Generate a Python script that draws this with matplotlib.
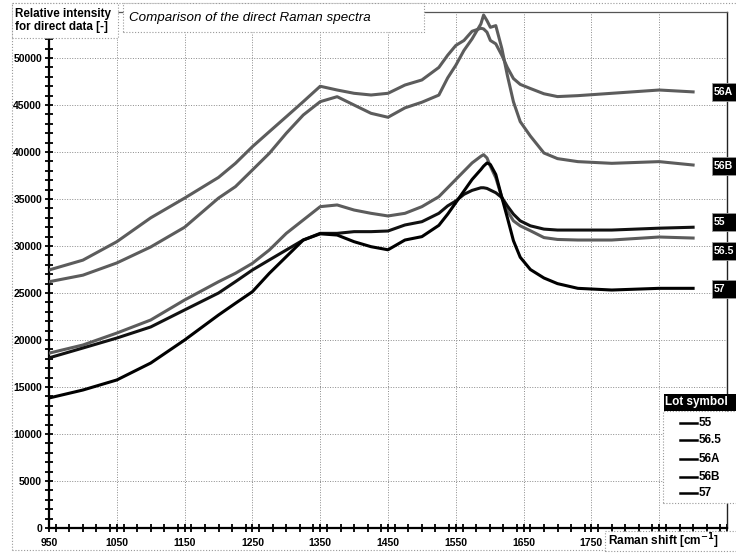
import matplotlib
matplotlib.use("Agg")
import matplotlib.pyplot as plt
from matplotlib.patches import Rectangle
from matplotlib.lines import Line2D
from matplotlib.ticker import MultipleLocator, FixedLocator

plt.rcParams['font.family'] = ['Liberation Sans', 'DejaVu Sans']

# -------------------
# data
# -------------------
raman_shift = [950, 1000, 1050, 1100, 1150, 1200, 1225, 1250, 1275, 1300, 1325, 1350,
               1375, 1400, 1425, 1450, 1475, 1500, 1525, 1538, 1550, 1562, 1574, 1587,
               1591, 1596, 1601, 1609, 1618, 1626, 1635, 1645, 1660, 1680, 1700, 1730,
               1780, 1850, 1900]

lot_56A = [27450, 28500, 30460, 33000, 35100, 37300, 38800, 40570, 42170, 43760, 45360, 47000,
           46600, 46250, 46070, 46250, 47130, 47670, 49000, 50300, 51340, 51870, 52850, 53170,
           53100, 52750, 51870, 51510, 50280, 49000, 47820, 47200, 46760, 46200, 45900, 46000,
           46250, 46600, 46400]
lot_56B = [26200, 26900, 28200, 29900, 32000, 35100, 36320, 38090, 39870, 42000, 43940, 45360,
           45890, 45000, 44120, 43700, 44700, 45300, 46060, 47890, 49230, 50810, 52040, 53630,
           54580, 53980, 53270, 53450, 50990, 48170, 45350, 43240, 41700, 39900, 39300, 38980,
           38800, 38980, 38620]
lot_565 = [18600, 19470, 20740, 22130, 24260, 26200, 27100, 28160, 29580, 31350, 32770, 34190,
           34370, 33830, 33480, 33200, 33480, 34190, 35250, 36200, 37080, 37960, 38840, 39550,
           39720, 39370, 38490, 37260, 35150, 33740, 32680, 32150, 31630, 30900, 30700, 30640,
           30640, 30960, 30850]
lot_55 = [18100, 19150, 20210, 21390, 23200, 25000, 26210, 27450, 28520, 29580, 30640, 31350,
          31350, 31530, 31530, 31600, 32240, 32590, 33480, 34270, 34790, 35500, 35920, 36200,
          36200, 36130, 35950, 35670, 35150, 34270, 33390, 32680, 32150, 31800, 31700, 31700,
          31700, 31900, 32000]
lot_57 = [13830, 14680, 15750, 17550, 20000, 22660, 23910, 25140, 27100, 28870, 30640, 31300,
          31170, 30460, 29930, 29600, 30640, 31000, 32200, 33390, 34620, 35850, 37080, 38140,
          38500, 38840, 38670, 37610, 35150, 33030, 30570, 28810, 27500, 26600, 26000, 25500,
          25320, 25500, 25500]

lot_names = ['55', '56.5', '56A', '56B', '57']
end_labels = ['56A', '56B', '55', '56.5', '57']
x_tick_labels = ['950', '1050', '1150', '1250', '1350', '1450', '1550', '1650', '1750', '', '']

W, H = 736, 553


def fx(px):
    return px / W


def fy(py):
    return 1 - py / H


fig = plt.figure(figsize=(W / 100, H / 100), dpi=100)
ax = fig.add_axes([fx(49), fy(528), 678 / W, (528 - 12) / H])

gray = '#5c5c5c'
ax.plot(raman_shift, lot_56A, color=gray, lw=2.2, zorder=3)
ax.plot(raman_shift, lot_56B, color=gray, lw=2.2, zorder=3)
ax.plot(raman_shift, lot_565, color=gray, lw=2.2, zorder=3)
ax.plot(raman_shift, lot_55, color='#111111', lw=2.2, zorder=4)
ax.plot(raman_shift, lot_57, color='#000000', lw=2.2, zorder=4)

ax.set_xlim(950, 1950)
ax.set_ylim(0, 54900)

# grid
dots = (0, (1, 1.6))
for v in range(5000, 50001, 5000):
    ax.axhline(v, color='#8a8a8a', lw=0.7, ls=dots, zorder=1)
for v in range(1050, 1851, 100):
    ax.axvline(v, color='#8a8a8a', lw=0.7, ls=dots, zorder=1)

# spines
ax.spines['left'].set_bounds(0, 52000)
ax.spines['left'].set_linewidth(1.6)
ax.spines['bottom'].set_linewidth(1.6)
ax.spines['top'].set_color('#555555')
ax.spines['top'].set_linewidth(0.9)
ax.spines['right'].set_color('#222222')
ax.spines['right'].set_linewidth(1.0)

# ticks
ax.yaxis.set_major_locator(FixedLocator(list(range(0, 50001, 5000))))
ax.yaxis.set_minor_locator(FixedLocator(list(range(0, 52001, 1000))))
ax.xaxis.set_major_locator(FixedLocator(list(range(950, 1951, 100))))
ax.xaxis.set_minor_locator(MultipleLocator(20))
ax.set_xticklabels(x_tick_labels)
ax.tick_params(axis='both', which='both', direction='inout', length=6, width=1.3,
               color='black', right=False, top=False)
ax.tick_params(axis='y', which='major', pad=2, labelsize=7.5)
ax.tick_params(axis='x', which='major', pad=4, labelsize=7.5)
for lab in ax.get_xticklabels() + ax.get_yticklabels():
    lab.set_fontweight('bold')

# outer dotted border
for (x0, y0, x1, y1) in [(12, 3, 736, 3), (12, 3, 12, 550), (12, 550, 736, 550)]:
    fig.add_artist(Line2D([fx(x0), fx(x1)], [fy(y0), fy(y1)], color='#999999', lw=0.8, ls=dots))

# y label box
fig.add_artist(Rectangle((fx(12), fy(38)), fx(118) - fx(12), fy(3) - fy(38), facecolor='white',
                         edgecolor='#999999', lw=0.8, ls=dots, zorder=5))
fig.text(fx(15), fy(20.5), 'Relative intensity\nfor direct data [-]', fontsize=8.4,
         fontweight='bold', ha='left', va='center', linespacing=1.15, zorder=6)

# title box
fig.add_artist(Rectangle((fx(123), fy(32)), fx(424) - fx(123), fy(3) - fy(32), facecolor='white',
                         edgecolor='#999999', lw=0.8, ls=dots, zorder=5))
fig.text(fx(129), fy(17.5), 'Comparison of the direct Raman spectra', fontsize=9.6,
         fontstyle='italic', ha='left', va='center', zorder=6)

# x label box
fig.add_artist(Rectangle((fx(605), fy(551)), fx(740) - fx(605), fy(531) - fy(551),
                         facecolor='white', edgecolor='#999999', lw=0.8, ls=dots, zorder=5))
fig.text(fx(608), fy(541), 'Raman shift [cm$^{\\mathbf{-1}}$]', fontsize=8.6, fontweight='bold',
         ha='left', va='center', zorder=6)

# end labels
end_y = [92, 166, 222, 251, 289]
for lab, yy in zip(end_labels, end_y):
    fig.add_artist(Rectangle((fx(712), fy(yy + 9)), fx(745) - fx(712), 18 / H,
                             facecolor='black', edgecolor='#999999', lw=0.6, zorder=5))
    fig.text(fx(714), fy(yy), lab, color='white', fontsize=7.6, fontweight='bold',
             ha='left', va='center', zorder=6)

# legend
fig.add_artist(Rectangle((fx(663), fy(503)), fx(745) - fx(663), fy(411) - fy(503),
                         facecolor='white', edgecolor='#999999', lw=0.8, ls=dots, zorder=5))
fig.add_artist(Rectangle((fx(664), fy(411)), fx(745) - fx(664), 17 / H,
                         facecolor='black', edgecolor='none', zorder=5))
fig.text(fx(665), fy(402.5), 'Lot symbol', color='white', fontsize=8.5, fontweight='bold',
         ha='left', va='center', zorder=6)
leg_y = [423, 440, 459, 477, 493]
for lab, yy in zip(lot_names, leg_y):
    fig.add_artist(Line2D([fx(680), fx(697)], [fy(yy), fy(yy)], color='black', lw=1.8, zorder=6))
    fig.text(fx(699), fy(yy), lab, fontsize=8.5, fontweight='bold', ha='left', va='center', zorder=6)

fig.savefig('out.png', dpi=100)
